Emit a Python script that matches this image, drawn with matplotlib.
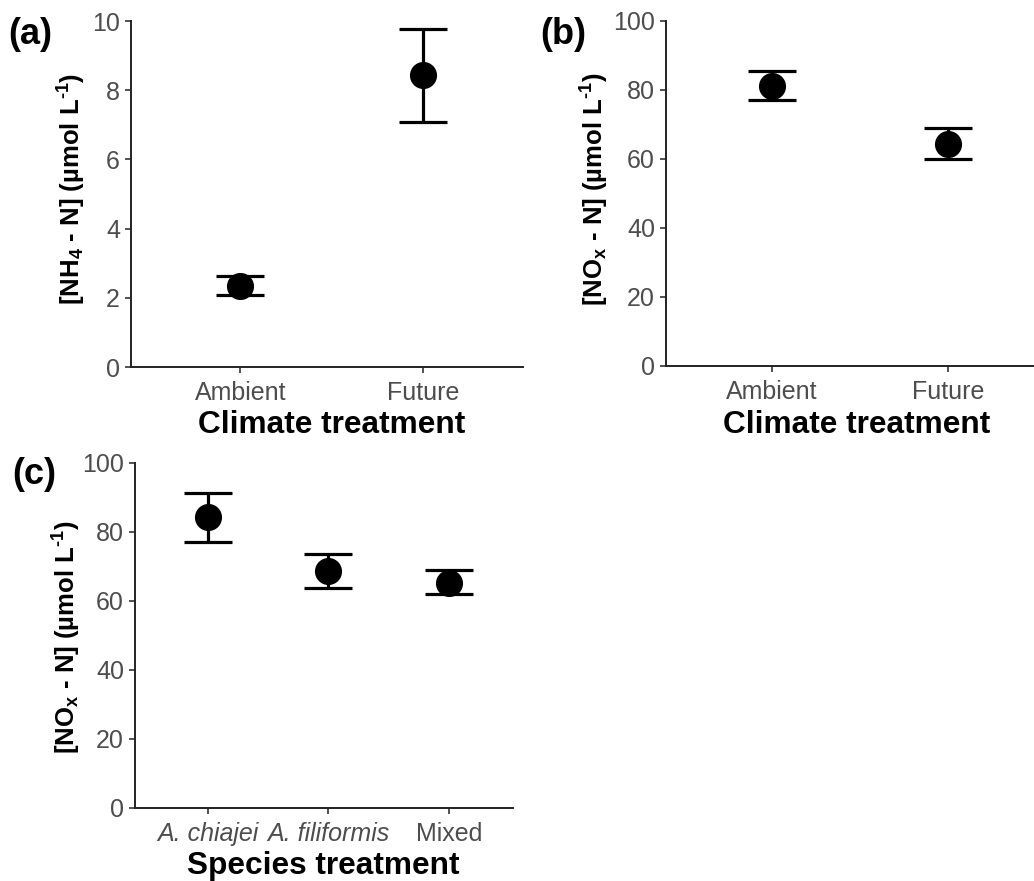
import matplotlib
matplotlib.use('Agg')
from matplotlib import pyplot as plt

plt.rcParams['font.family'] = ['Liberation Sans', 'DejaVu Sans']
plt.rcParams['mathtext.fontset'] = 'custom'
plt.rcParams['mathtext.rm'] = 'Liberation Sans:bold'
plt.rcParams['mathtext.bf'] = 'Liberation Sans:bold'
plt.rcParams['mathtext.default'] = 'bf'

# panel a: NH4 by climate
climate = ['Ambient', 'Future']
nh4_mean = [2.34, 8.43]
nh4_low = [2.08, 7.09]
nh4_high = [2.63, 9.78]

# panel b: NOx by climate
nox_clim_mean = [81.2, 64.3]
nox_clim_low = [77.1, 60.0]
nox_clim_high = [85.5, 68.9]

# panel c: NOx by species
species = ['A. chiajei', 'A. filiformis', 'Mixed']
nox_sp_mean = [84.2, 68.7, 65.3]
nox_sp_low = [77.0, 63.9, 62.1]
nox_sp_high = [91.4, 73.7, 69.0]

W, H = 1034, 881
fig = plt.figure(figsize=(W / 100, H / 100), dpi=100)

tick_grey = '#4d4d4d'


def panel(rect, cats, mean, low, high, ymax, xmax):
    ax = fig.add_axes(rect)
    x = list(range(1, len(cats) + 1))
    err = [[m - l for m, l in zip(mean, low)], [h - m for m, h in zip(mean, high)]]
    ax.errorbar(x, mean, yerr=err, fmt='o', color='black', ms=18.5,
                elinewidth=2.3, capsize=17, capthick=2.3)
    ax.set_xlim(0.4, xmax)
    ax.set_ylim(0, ymax)
    ax.set_xticks(x)
    ax.set_xticklabels(cats)
    ax.set_yticks([ymax * i / 5 for i in range(6)])
    ax.set_yticklabels([f'{ymax * i / 5:g}' for i in range(6)])
    for s in ['top', 'right']:
        ax.spines[s].set_visible(False)
    for s in ['left', 'bottom']:
        ax.spines[s].set_linewidth(1.4)
        ax.spines[s].set_color('#222222')
    ax.tick_params(axis='both', length=4, width=1.2, color='#333333',
                   labelsize=18, labelcolor=tick_grey)
    ax.tick_params(axis='x', pad=6)
    ax.tick_params(axis='y', pad=4)
    ax.patch.set_alpha(0)
    return ax


ax_a = panel([0.1267, 0.5834, 0.3791, 0.3927], climate, nh4_mean, nh4_low,
             nh4_high, 10, 2.55)
ax_b = panel([0.6441, 0.5846, 0.3559, 0.3916], climate, nox_clim_mean,
             nox_clim_low, nox_clim_high, 100, 2.49)
ax_c = panel([0.1306, 0.0829, 0.3656, 0.3916], species, nox_sp_mean,
             nox_sp_low, nox_sp_high, 100, 3.53)

for lab in ax_c.get_xticklabels()[:2]:
    lab.set_style('italic')

nh4_label = '[NH$_4$ - N] (µmol L$^{\u2010 1}$)'
nox_label = '[NO$_x$ - N] (µmol L$^{\u2010 1}$)'
fig.text(72 / W, 1 - 189 / H, nh4_label, fontsize=18.5, fontweight='bold',
         rotation=90, ha='center', va='center')
fig.text(595 / W, 1 - 189 / H, nox_label, fontsize=18.5, fontweight='bold',
         rotation=90, ha='center', va='center')
fig.text(67 / W, 1 - 637 / H, nox_label, fontsize=18.5, fontweight='bold',
         rotation=90, ha='center', va='center')

fig.text(332 / W, 1 - 425 / H, 'Climate treatment', fontsize=22.8, fontweight='bold',
         ha='center', va='center')
fig.text(857 / W, 1 - 425 / H, 'Climate treatment', fontsize=22.8, fontweight='bold',
         ha='center', va='center')
fig.text(323 / W, 1 - 866 / H, 'Species treatment', fontsize=22.8, fontweight='bold',
         ha='center', va='center')

fig.text(8 / W, 1 - 34 / H, '(a)', fontsize=26, fontweight='bold', ha='left', va='center')
fig.text(540 / W, 1 - 34 / H, '(b)', fontsize=26, fontweight='bold', ha='left', va='center')
fig.text(12 / W, 1 - 475 / H, '(c)', fontsize=26, fontweight='bold', ha='left', va='center')

fig.savefig('out.png', dpi=100)
